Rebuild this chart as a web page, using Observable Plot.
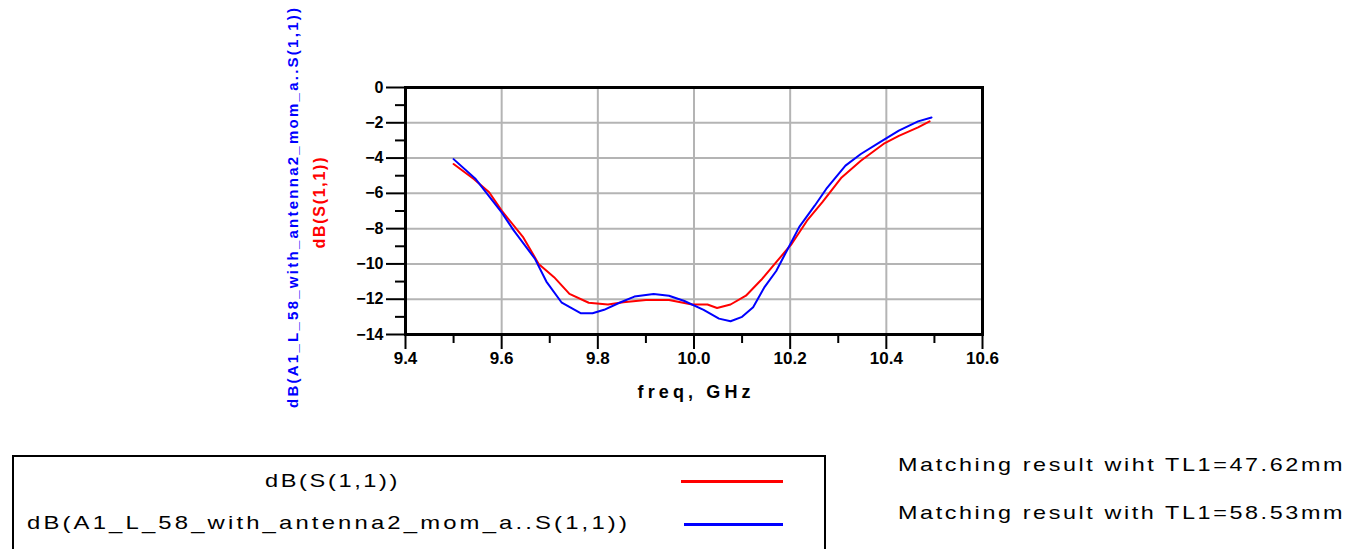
<!DOCTYPE html>
<html>
<head>
<meta charset="utf-8">
<script src="https://cdn.jsdelivr.net/npm/d3@7"></script>
<script src="https://cdn.jsdelivr.net/npm/@observablehq/plot@0.6"></script>
<style>
  html, body { margin: 0; padding: 0; background: #fff; width: 1353px; height: 549px; overflow: hidden; font-family: "Liberation Sans", Arial, sans-serif; }
  #chart { position: absolute; left: 0; top: 0; }
  .legbox { position: absolute; left: 12px; top: 455px; width: 814px; height: 120px; border: 2px solid #000; box-sizing: border-box; }
  .t { position: absolute; white-space: nowrap; color: #000; font-family: "Liberation Sans", Arial, sans-serif; font-size: 19px; line-height: 1; transform-origin: 0 50%; }
  .sw { position: absolute; height: 3px; }
</style>
</head>
<body>
<div id="chart"></div>
<div class="legbox"></div>
<div class="t" id="l1" data-w="135" style="left:265px; top:471px;">dB(S(1,1))</div>
<div class="t" id="l2" data-w="603" style="left:27px; top:513px;">dB(A1_L_58_with_antenna2_mom_a..S(1,1))</div>
<div class="sw" style="left:681px; top:480px; width:102px; background:#ff0000;"></div>
<div class="sw" style="left:684px; top:523px; width:99px; background:#0000ff;"></div>
<div class="t" id="r1" data-w="447" style="left:898px; top:455px;">Matching result wiht TL1=47.62mm</div>
<div class="t" id="r2" data-w="447" style="left:898px; top:503px;">Matching result with TL1=58.53mm</div>
<script>
// Red series: dB(S(1,1)), TL1=47.62mm
const freqRed = [9.5, 9.542, 9.574, 9.6, 9.645, 9.677, 9.709, 9.741, 9.781, 9.821, 9.853, 9.9, 9.948, 9.996, 10.028, 10.048, 10.076, 10.108, 10.14, 10.171, 10.203, 10.235, 10.267, 10.307, 10.347, 10.394, 10.426, 10.466, 10.49];
const s11Red  = [-4.34, -5.19, -5.94, -6.98, -8.5, -10.0, -10.75, -11.7, -12.2, -12.3, -12.17, -12.04, -12.04, -12.3, -12.3, -12.5, -12.3, -11.8, -10.9, -9.9, -8.87, -7.55, -6.5, -5.1, -4.15, -3.2, -2.74, -2.26, -1.92];
// Blue series: dB(A1_L_58_with_antenna2_mom_a..S(1,1)), TL1=58.53mm
const freqBlue = [9.5, 9.546, 9.6, 9.625, 9.669, 9.693, 9.725, 9.765, 9.789, 9.813, 9.845, 9.876, 9.916, 9.948, 9.98, 10.02, 10.052, 10.076, 10.1, 10.123, 10.147, 10.171, 10.195, 10.219, 10.251, 10.275, 10.315, 10.347, 10.386, 10.426, 10.466, 10.494];
const s11Blue  = [-4.06, -5.19, -7.08, -8.1, -9.7, -11.0, -12.2, -12.8, -12.8, -12.6, -12.2, -11.85, -11.7, -11.8, -12.1, -12.6, -13.1, -13.25, -13.0, -12.45, -11.3, -10.4, -9.15, -7.9, -6.7, -5.75, -4.43, -3.77, -3.11, -2.45, -1.92, -1.7];

const xMajor = [9.4, 9.6, 9.8, 10.0, 10.2, 10.4, 10.6];
const xMinor = [9.5, 9.7, 9.9, 10.1, 10.3, 10.5];
const yMajor = [0, -2, -4, -6, -8, -10, -12, -14];
const yMinor = [-1, -3, -5, -7, -9, -11, -13];
const yTitleBlue = "dB(A1_L_58_with_antenna2_mom_a..S(1,1))";
const yTitleRed = "dB(S(1,1))";
const xTitle = "freq, GHz";

const red = freqRed.map((f, i) => ({f, v: s11Red[i]}));
const blue = freqBlue.map((f, i) => ({f, v: s11Blue[i]}));

const chart = Plot.plot({
  width: 1353,
  height: 420,
  marginLeft: 405,
  marginRight: 371,
  marginTop: 87,
  marginBottom: 86,
  style: {fontFamily: "Liberation Sans, Arial, sans-serif", background: "#fff"},
  x: {domain: [9.4, 10.6]},
  y: {domain: [-14, 0]},
  marks: [
    Plot.gridX(xMajor, {stroke: "#b4b4b4", strokeOpacity: 1, strokeWidth: 2}),
    Plot.gridY(yMajor, {stroke: "#b4b4b4", strokeOpacity: 1, strokeWidth: 2}),
    Plot.axisX(xMajor, {tickSize: 15, strokeWidth: 2, tickPadding: 2, tickFormat: d => d.toFixed(1), fontSize: 17, fontWeight: "bold", label: null}),
    Plot.axisX(xMinor, {tickSize: 9, strokeWidth: 2, text: null, label: null}),
    Plot.axisY(yMajor, {tickSize: 19, strokeWidth: 2, tickPadding: 3, fontSize: 16, fontWeight: "bold", label: null}),
    Plot.axisY(yMinor, {tickSize: 10, strokeWidth: 2, text: null, label: null}),
    Plot.frame({stroke: "#000", strokeWidth: 3}),
    Plot.line(red, {x: "f", y: "v", stroke: "#ff0000", strokeWidth: 2}),
    Plot.line(blue, {x: "f", y: "v", stroke: "#0000ff", strokeWidth: 2}),
    Plot.text([xTitle], {frameAnchor: "bottom", dy: 63, fontSize: 18, fontWeight: "bold", fill: "#000", textAnchor: "middle"}),
    Plot.text([yTitleBlue], {frameAnchor: "left", dx: -112, dy: -3, rotate: -90, textAnchor: "middle", fontSize: 15, fontWeight: "bold", fill: "#0000ff"}),
    Plot.text([yTitleRed], {frameAnchor: "left", dx: -86, dy: -8, rotate: -90, textAnchor: "middle", fontSize: 16, fontWeight: "bold", fill: "#ff0000"})
  ]
});
document.getElementById("chart").appendChild(chart);
const fit = {[xTitle]: 113, [yTitleBlue]: 400, [yTitleRed]: 91};
d3.select(chart).selectAll("text").each(function() {
  const len = fit[this.textContent];
  if (len) d3.select(this).attr("textLength", len).attr("lengthAdjust", "spacing");
});
// widen the HTML legend texts to the reference widths: part glyph stretch, part spacing
document.querySelectorAll(".t").forEach(el => {
  const target = +el.dataset.w;
  const natural = el.getBoundingClientRect().width;
  const n = el.textContent.length;
  const s = Math.sqrt(target / natural);
  const spaced = target / s;
  el.style.letterSpacing = ((spaced - natural) / n) + "px";
  el.style.transform = "scaleX(" + s + ")";
});
</script>
</body>
</html>
